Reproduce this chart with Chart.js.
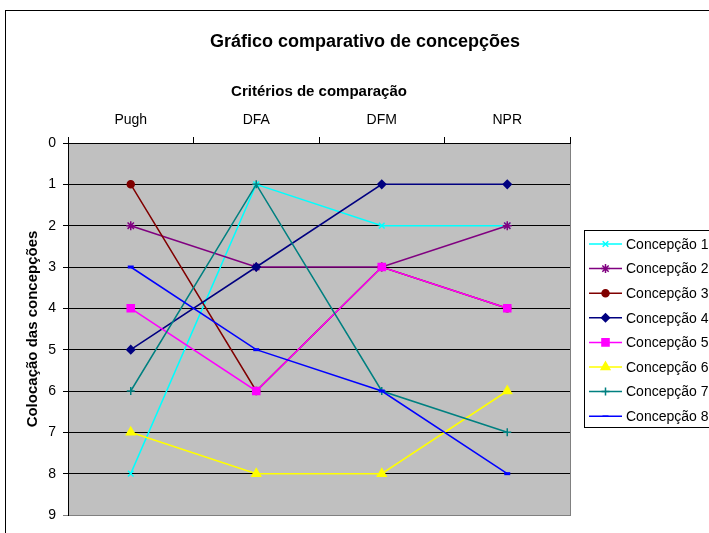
<!DOCTYPE html>
<html>
<head>
<meta charset="utf-8">
<title>Gráfico comparativo de concepções</title>
<script src="https://cdn.jsdelivr.net/npm/chart.js@4/dist/chart.umd.min.js"></script>
<style>
  html, body { margin: 0; padding: 0; background: #fff; }
  canvas { display: block; }
</style>
</head>
<body>
<canvas id="grafico" width="709" height="533"></canvas>
<script>
const criterios = ['Pugh', 'DFA', 'DFM', 'NPR'];
const nomes = ['Concepção 1', 'Concepção 2', 'Concepção 3', 'Concepção 4',
               'Concepção 5', 'Concepção 6', 'Concepção 7', 'Concepção 8'];
const concepcao1 = [8, 1, 2, 2];
const concepcao2 = [2, 3, 3, 2];
const concepcao3 = [1, 6, 3, 4];
const concepcao4 = [5, 3, 1, 1];
const concepcao5 = [4, 6, 3, 4];
const concepcao6 = [7, 8, 8, 6];
const concepcao7 = [6, 1, 6, 7];
const concepcao8 = [3, 5, 6, 8];
const colocacoes = [0, 1, 2, 3, 4, 5, 6, 7, 8, 9];

const series = [concepcao1, concepcao2, concepcao3, concepcao4,
                concepcao5, concepcao6, concepcao7, concepcao8];
const cores = ['#00FFFF', '#800080', '#800000', '#000080',
               '#FF00FF', '#FFFF00', '#008080', '#0000FF'];
const marcadores = ['crossRot', 'star', 'circle', 'rectRot',
                    'rect', 'triangle', 'cross', 'line'];
const raios = [4, 4.5, 3.5, 4, 5, 5, 4, 3];

const fonte = 'Arial, "Liberation Sans", sans-serif';

// moldura, área de plotagem cinza, título e legenda
const excelPlugin = {
  id: 'excelPlugin',
  beforeDraw(chart) {
    const { ctx, chartArea: a } = chart;
    ctx.save();
    ctx.fillStyle = '#fff';
    ctx.fillRect(0, 0, chart.width, chart.height);
    ctx.strokeStyle = '#000';
    ctx.lineWidth = 1;
    ctx.strokeRect(5.5, 10.5, 900, 700);
    ctx.fillStyle = '#C0C0C0';
    ctx.fillRect(a.left, a.top, a.right - a.left, a.bottom - a.top);
    ctx.strokeStyle = '#808080';
    ctx.strokeRect(a.left + 0.5, a.top + 0.5, a.right - a.left, a.bottom - a.top);
    ctx.fillStyle = '#000';
    ctx.font = 'bold 18px ' + fonte;
    ctx.textAlign = 'center';
    ctx.textBaseline = 'alphabetic';
    ctx.fillText('Gráfico comparativo de concepções', 365, 47);
    ctx.restore();
  },
  afterDraw(chart) {
    const { ctx } = chart;
    const x0 = 584, y0 = 230, passo = 24.6;
    ctx.save();
    ctx.fillStyle = '#fff';
    ctx.fillRect(x0 + 0.5, y0 + 0.5, 200, 197);
    ctx.strokeStyle = '#000';
    ctx.lineWidth = 1;
    ctx.strokeRect(x0 + 0.5, y0 + 0.5, 200, 197);
    chart.data.datasets.forEach((ds, i) => {
      const y = y0 + 14 + i * passo;
      ctx.strokeStyle = ds.borderColor;
      ctx.lineWidth = 1.5;
      ctx.beginPath();
      ctx.moveTo(589, y);
      ctx.lineTo(622, y);
      ctx.stroke();
      ctx.fillStyle = ds.borderColor;
      Chart.helpers.drawPoint(ctx, {
        pointStyle: ds.pointStyle,
        radius: ds.pointRadius,
        borderWidth: ds.pointBorderWidth,
        rotation: 0
      }, 605.5, y);
      ctx.fillStyle = '#000';
      ctx.font = '14px ' + fonte;
      ctx.textAlign = 'left';
      ctx.textBaseline = 'middle';
      ctx.fillText(ds.label, 626, y + 1);
    });
    ctx.restore();
  }
};

const datasets = series.map((valores, i) => ({
  label: nomes[i],
  data: valores,
  borderColor: cores[i],
  backgroundColor: cores[i],
  borderWidth: 1.5,
  pointStyle: marcadores[i],
  pointRadius: raios[i],
  pointBorderWidth: marcadores[i] === 'line' ? 3 : 1.5,
  pointBackgroundColor: cores[i],
  pointBorderColor: cores[i],
  tension: 0,
  fill: false,
  order: series.length - i
}));

new Chart(document.getElementById('grafico'), {
  type: 'line',
  data: { labels: criterios, datasets },
  plugins: [excelPlugin],
  options: {
    responsive: false,
    animation: false,
    layout: { padding: { left: 0, top: 0, right: 139, bottom: 18 } },
    plugins: {
      legend: { display: false },
      title: { display: false },
      tooltip: { enabled: false }
    },
    scales: {
      x: {
        position: 'top',
        offset: true,
        afterFit(scale) { scale.height = 143; },
        grid: {
          offset: true,
          drawOnChartArea: false,
          drawTicks: true,
          tickLength: 6,
          color: '#000'
        },
        border: { display: true, color: '#000', width: 1 },
        ticks: { color: '#000', font: { family: fonte, size: 14 }, padding: 8 },
        title: {
          display: true,
          text: 'Critérios de comparação',
          color: '#000',
          font: { family: fonte, size: 15, weight: 'bold' },
          padding: { top: 83, bottom: 0 }
        }
      },
      y: {
        reverse: true,
        min: 0,
        max: 9,
        afterFit(scale) { scale.width = 68; },
        afterBuildTicks(scale) {
          scale.ticks = colocacoes.map(v => ({ value: v }));
        },
        grid: {
          color: ctx => ctx.tick && ctx.tick.value === 9 ? '#808080' : '#000',
          tickLength: 5,
          lineWidth: 1
        },
        border: { display: true, color: '#000', width: 1 },
        ticks: { color: '#000', font: { family: fonte, size: 14 }, padding: 7, stepSize: 1 },
        title: {
          display: true,
          text: 'Colocação das concepções',
          color: '#000',
          font: { family: fonte, size: 15, weight: 'bold' },
          padding: { top: 24, bottom: 0 }
        }
      }
    }
  }
});
</script>
</body>
</html>
